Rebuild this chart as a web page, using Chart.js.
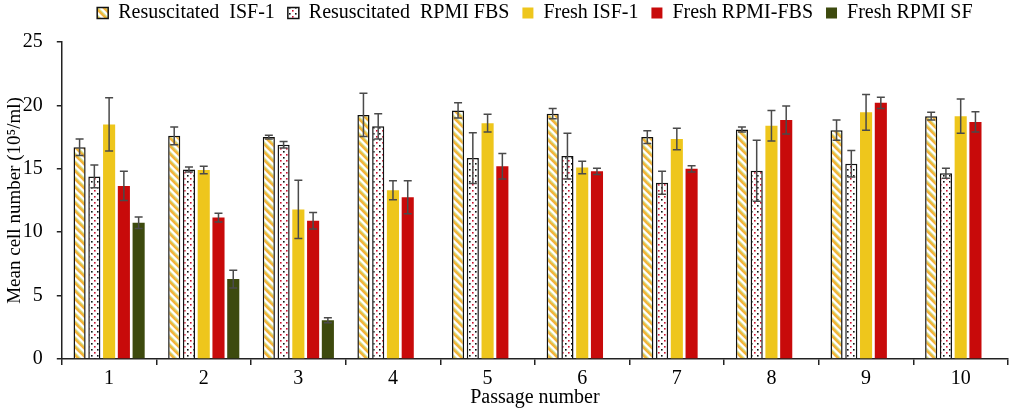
<!DOCTYPE html>
<html>
<head>
<meta charset="utf-8">
<script src="https://cdn.jsdelivr.net/npm/chart.js@4/dist/chart.umd.min.js"></script>
<style>
    html, body { margin: 0; padding: 0; background: #fff; }
    #wrap { width: 1013px; height: 411px; position: relative; }
</style>
</head>
<body>
<div id="wrap"><canvas id="cellChart"></canvas></div>
<script>
// Passage numbers
const passages = ['1', '2', '3', '4', '5', '6', '7', '8', '9', '10'];

// Series names (trailing space gives the wider legend spacing)
const seriesNames = ['Resuscitated  ISF-1 ', 'Resuscitated  RPMI FBS ', 'Fresh ISF-1 ', 'Fresh RPMI-FBS ', 'Fresh RPMI SF'];

// Mean cell number (10^5/ml) per series
const resusIsf = [16.7, 17.6, 17.5, 19.25, 19.6, 19.35, 17.5, 18.1, 18.05, 19.15];
const resusRpmi = [14.4, 14.95, 16.9, 18.35, 15.85, 16.0, 13.9, 14.85, 15.4, 14.65];
const freshIsf = [18.5, 14.9, 11.8, 13.3, 18.6, 15.1, 17.35, 18.4, 19.45, 19.15];
const freshRpmiFbs = [13.65, 11.15, 10.9, 12.75, 15.2, 14.8, 15.0, 18.85, 20.2, 18.7];
const freshRpmiSf = [10.75, 6.3, 3.05, null, null, null, null, null, null, null];

// Error bar half-lengths
const resusIsfErr = [0.65, 0.7, 0.15, 1.7, 0.6, 0.4, 0.5, 0.2, 0.8, 0.3];
const resusRpmiErr = [0.9, 0.2, 0.25, 1.0, 2.0, 1.8, 0.9, 2.4, 1.05, 0.4];
const freshIsfErr = [2.1, 0.3, 2.3, 0.75, 0.7, 0.5, 0.85, 1.2, 1.4, 1.35];
const freshRpmiFbsErr = [1.15, 0.35, 0.65, 1.3, 1.0, 0.25, 0.25, 1.1, 0.45, 0.8];
const freshRpmiSfErr = [0.45, 0.7, 0.2, null, null, null, null, null, null, null];

const yTicks = [0, 5, 10, 15, 20, 25];

const FONT = '"Liberation Serif", "Times New Roman", serif';

// Diagonal stripe fill for resuscitated ISF-1
function stripePattern() {
    const c = document.createElement('canvas');
    c.width = 8; c.height = 8;
    const g = c.getContext('2d');
    g.fillStyle = '#fff';
    g.fillRect(0, 0, 8, 8);
    g.lineCap = 'square';
    const draw = function(color, width, off) {
        g.strokeStyle = color;
        g.lineWidth = width;
        for (let k = -8; k <= 8; k += 8) {
            g.beginPath();
            g.moveTo(k + off, 0);
            g.lineTo(k + off + 8, 8);
            g.stroke();
        }
    };
    draw('#f2b43a', 2.6, 0);
    draw('#bcd65c', 1, 2.4);
    return g.createPattern(c, 'repeat');
}

// Black/red dot fill for resuscitated RPMI FBS
function dotPattern() {
    const c = document.createElement('canvas');
    c.width = 6; c.height = 6;
    const g = c.getContext('2d');
    g.fillStyle = '#fff';
    g.fillRect(0, 0, 6, 6);
    g.fillStyle = '#111';
    g.fillRect(1, 1, 1.6, 1.6);
    g.fillStyle = '#c8102e';
    g.fillRect(4, 4, 1.6, 1.6);
    return g.createPattern(c, 'repeat');
}

// Draws the error bars using the chart's own scales
const errorBarPlugin = {
    id: 'errorBars',
    afterDatasetsDraw(chart) {
        const ctx = chart.ctx;
        const yScale = chart.scales.y;
        ctx.save();
        ctx.strokeStyle = '#4a4a4a';
        ctx.lineWidth = 1.5;
        chart.data.datasets.forEach((ds, di) => {
            const meta = chart.getDatasetMeta(di);
            if (meta.hidden) return;
            meta.data.forEach((bar, i) => {
                const v = ds.data[i];
                const e = ds.errors[i];
                if (v == null || e == null) return;
                const top = yScale.getPixelForValue(v + e);
                const bot = yScale.getPixelForValue(v - e);
                const x = bar.x;
                const cap = 4;
                ctx.beginPath();
                ctx.moveTo(x, top); ctx.lineTo(x, bot);
                ctx.moveTo(x - cap, top); ctx.lineTo(x + cap, top);
                ctx.moveTo(x - cap, bot); ctx.lineTo(x + cap, bot);
                ctx.stroke();
            });
        });
        ctx.restore();
    }
};

// Extra gap below the legend
const legendMargin = {
    id: 'legendMargin',
    beforeInit(chart) {
        const origFit = chart.legend.fit;
        chart.legend.fit = function fit() {
            origFit.bind(chart.legend)();
            this.height += 9;
        };
    }
};

document.addEventListener('DOMContentLoaded', function() {
    const ctx = document.getElementById('cellChart').getContext('2d');

    new Chart(ctx, {
        type: 'bar',
        data: {
            labels: passages,
            datasets: [
                {
                    label: seriesNames[0],
                    data: resusIsf,
                    errors: resusIsfErr,
                    backgroundColor: stripePattern(),
                    borderColor: '#111',
                    borderWidth: 1.5
                },
                {
                    label: seriesNames[1],
                    data: resusRpmi,
                    errors: resusRpmiErr,
                    backgroundColor: dotPattern(),
                    borderColor: '#111',
                    borderWidth: 1.5
                },
                {
                    label: seriesNames[2],
                    data: freshIsf,
                    errors: freshIsfErr,
                    backgroundColor: '#eec61c',
                    borderWidth: 0
                },
                {
                    label: seriesNames[3],
                    data: freshRpmiFbs,
                    errors: freshRpmiFbsErr,
                    backgroundColor: '#c80a0a',
                    borderWidth: 0
                },
                {
                    label: seriesNames[4],
                    data: freshRpmiSf,
                    errors: freshRpmiSfErr,
                    backgroundColor: '#3d4a0e',
                    borderWidth: 0
                }
            ]
        },
        options: {
            responsive: true,
            maintainAspectRatio: false,
            animation: false,
            devicePixelRatio: 1,
            datasets: {
                bar: {
                    categoryPercentage: 0.78,
                    barPercentage: 0.82
                }
            },
            layout: {
                padding: { left: 4, right: 5, top: -5, bottom: 1 }
            },
            scales: {
                x: {
                    grid: {
                        display: true,
                        drawOnChartArea: false,
                        drawTicks: true,
                        tickLength: 6,
                        color: '#222',
                        lineWidth: 1.5
                    },
                    border: { color: '#222', width: 1.5 },
                    ticks: {
                        color: '#000',
                        font: { family: FONT, size: 20 },
                        padding: 2
                    },
                    title: {
                        display: true,
                        text: 'Passage number',
                        color: '#000',
                        font: { family: FONT, size: 20 },
                        padding: { top: -7, bottom: 0 }
                    }
                },
                y: {
                    min: 0,
                    max: 25,
                    afterBuildTicks: function(axis) {
                        axis.ticks = yTicks.map(v => ({ value: v }));
                    },
                    grid: {
                        display: true,
                        drawOnChartArea: false,
                        drawTicks: true,
                        tickLength: 5,
                        color: '#222',
                        lineWidth: 1.5
                    },
                    border: { color: '#222', width: 1.5 },
                    ticks: {
                        color: '#000',
                        font: { family: FONT, size: 20 },
                        padding: 14
                    },
                    title: {
                        display: true,
                        text: 'Mean cell number (10\u2075/ml)',
                        color: '#000',
                        font: { family: FONT, size: 19 },
                        padding: { top: 0, bottom: -18 }
                    }
                }
            },
            plugins: {
                legend: {
                    display: true,
                    position: 'top',
                    fullSize: false,
                    labels: {
                        color: '#000',
                        font: { family: FONT, size: 20 },
                        boxWidth: 11,
                        boxHeight: 11,
                        padding: 8
                    }
                },
                tooltip: { enabled: false }
            }
        },
        plugins: [errorBarPlugin, legendMargin]
    });
});
</script>
</body>
</html>
